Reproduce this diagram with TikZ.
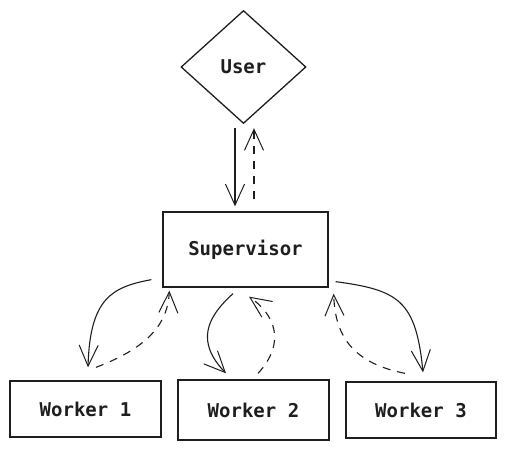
\documentclass[tikz,border=0pt]{standalone}
\usepackage{fontspec}
\newfontfamily\codefont{DejaVu Sans Mono}
\usetikzlibrary{shapes.geometric,arrows.meta,calc}
\definecolor{ink}{HTML}{1E1E1E}
\begin{document}
\begin{tikzpicture}[x=1pt,y=-1pt,
  every node/.style={font=\codefont\bfseries\fontsize{19}{22}\selectfont, text=ink},
  boxnode/.style={draw=ink, line width=1.3pt, inner sep=0pt, rectangle},
  usernode/.style={draw=ink, line width=1.3pt, diamond, inner sep=0pt, minimum width=125pt, minimum height=113pt},
  flow/.style={draw=ink, line width=1.1pt, -{Straight Barb[length=21pt,width=19pt,line width=1pt]}},
  back/.style={flow, dash pattern=on 8pt off 7pt}]
\useasboundingbox (0,0) rectangle (507,449);
\node[usernode] (user) at (243.5,67) {User};
\node[boxnode, minimum width=165pt, minimum height=75pt] (sup) at (245.5,249.5) {Supervisor};
\node[boxnode, minimum width=151pt, minimum height=56pt] (w1) at (85.5,409) {Worker 1};
\node[boxnode, minimum width=151pt, minimum height=60pt] (w2) at (253.5,410) {Worker 2};
\node[boxnode, minimum width=150pt, minimum height=56pt] (w3) at (421,410) {Worker 3};
% user <-> supervisor
\draw[flow] ($(user.south)+(-8.5,4)$) -- ($(sup.north)+(-10.5,-5)$);
\draw[back] ($(sup.north)+(8.5,-12)$) -- ($(user.south)+(10.5,4)$);
% supervisor <-> worker 1
\draw[flow] ($(sup.south west)+(-11,-8)$) .. controls (112,287) and (90,298) .. ($(w1.north)+(2.5,-13)$);
\draw[back] ($(w1.north)+(10.5,-13)$) .. controls (150,347) and (168,322) .. ($(sup.south west)+(7,3)$);
% supervisor <-> worker 2
\draw[flow] ($(sup.south)+(-12.5,6)$) .. controls (206,318) and (196,342) .. ($(w2.north)+(-27.5,-6)$);
\draw[back] ($(w2.north)+(4.5,-6)$) .. controls (287,342) and (274,314) .. ($(sup.south)+(3.5,9)$);
% supervisor <-> worker 3
\draw[flow] ($(sup.south east)+(7,-6)$) .. controls (398,290) and (416,300) .. ($(w3.north)+(2,-9)$);
\draw[back] ($(w3.north)+(-16,-8)$) .. controls (347,362) and (335,330) .. ($(sup.south east)+(5,6)$);
\end{tikzpicture}
\end{document}
